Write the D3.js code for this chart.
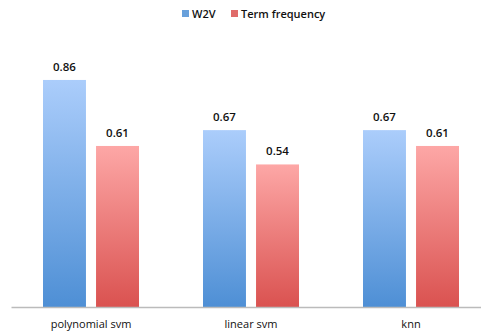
<!DOCTYPE html>
<html>
<head>
<meta charset="utf-8">
<script src="https://cdn.jsdelivr.net/npm/d3@7"></script>
<style>
  html, body { margin: 0; padding: 0; background: #fff; }
  svg { display: block; }
  text { font-family: "Open Sans", "DejaVu Sans", sans-serif; fill: #111; }
</style>
</head>
<body>
<svg id="chart" width="481" height="334"></svg>
<script>
// Accuracy by classifier for two feature representations
const categories = ["polynomial svm", "linear svm", "knn"];
const seriesNames = ["W2V", "Term frequency"];
const w2vValues = [0.86, 0.67, 0.67];
const tfValues = [0.61, 0.54, 0.61];

const seriesColors = {
  "W2V": { top: "#abcdfb", bottom: "#4e8fd5" },
  "Term frequency": { top: "#fda7a6", bottom: "#da5250" }
};

const rows = categories.map((c, i) => ({
  category: c,
  values: [
    { key: seriesNames[0], value: w2vValues[i] },
    { key: seriesNames[1], value: tfValues[i] }
  ]
}));

const svg = d3.select("#chart");

const x0 = d3.scaleBand()
  .domain(categories)
  .range([11, 491])
  .paddingInner(0.4)
  .paddingOuter(0.2);

const x1 = d3.scaleBand()
  .domain(seriesNames)
  .range([0, x0.bandwidth()])
  .paddingInner(0.19);

const y = d3.scaleLinear().domain([0, 1]).range([307, 43]);

// Vertical gradients per series
const defs = svg.append("defs");
seriesNames.forEach((name, i) => {
  const g = defs.append("linearGradient")
    .attr("id", "grad" + i)
    .attr("x1", 0).attr("y1", 0).attr("x2", 0).attr("y2", 1);
  g.append("stop").attr("offset", "0%").attr("stop-color", seriesColors[name].top);
  g.append("stop").attr("offset", "100%").attr("stop-color", seriesColors[name].bottom);
});

// Bars
const groups = svg.append("g").selectAll("g")
  .data(rows)
  .join("g")
  .attr("transform", d => `translate(${x0(d.category)},0)`);

groups.selectAll("rect")
  .data(d => d.values)
  .join("rect")
  .attr("x", d => x1(d.key))
  .attr("y", d => y(d.value))
  .attr("width", x1.bandwidth())
  .attr("height", d => y(0) - y(d.value))
  .attr("fill", d => `url(#grad${seriesNames.indexOf(d.key)})`);

// Value labels
groups.selectAll("text.val")
  .data(d => d.values)
  .join("text")
  .attr("class", "val")
  .attr("x", d => x1(d.key) + x1.bandwidth() / 2)
  .attr("y", d => y(d.value) - 9)
  .attr("text-anchor", "middle")
  .attr("font-size", "11.5px")
  .attr("font-weight", 600)
  .text(d => d.value.toFixed(2));

// Category axis
const xAxis = svg.append("g")
  .attr("transform", `translate(0,${y(0)})`)
  .call(d3.axisBottom(x0).tickSize(0).tickPadding(13));
xAxis.select(".domain").attr("stroke", "#bbbbbb").attr("stroke-width", 1.5);
xAxis.selectAll("text")
  .attr("font-size", "11px")
  .attr("font-family", "\"Open Sans\", \"DejaVu Sans\", sans-serif")
  .attr("fill", "#111");

// Legend
const legendItems = [
  { key: seriesNames[0], x: 182 },
  { key: seriesNames[1], x: 231 }
];
const legend = svg.append("g").selectAll("g")
  .data(legendItems)
  .join("g")
  .attr("transform", d => `translate(${d.x},10)`);
legend.append("rect")
  .attr("width", 7).attr("height", 7)
  .attr("fill", d => seriesColors[d.key].bottom)
  .attr("opacity", 0.85);
legend.append("text")
  .attr("x", 10).attr("y", 7.5)
  .attr("font-size", "11px")
  .attr("font-weight", 600)
  .text(d => d.key);
</script>
</body>
</html>
